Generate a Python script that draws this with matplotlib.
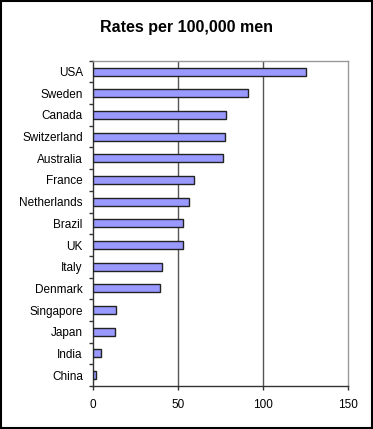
import numpy as np
import matplotlib.pyplot as plt
import matplotlib.ticker as ticker

plt.rcParams['font.family'] = ['Liberation Sans', 'DejaVu Sans']

countries = ['USA', 'Sweden', 'Canada', 'Switzerland', 'Australia', 'France',
             'Netherlands', 'Brazil', 'UK', 'Italy', 'Denmark', 'Singapore',
             'Japan', 'India', 'China']
rates = [125, 91, 78, 77.5, 76, 59.5, 56.5, 53, 52.5, 40.5, 39.5, 13.5, 12.5, 4.5, 1.5]

fig = plt.figure(figsize=[3.73, 4.29], dpi=100)
ax = fig.add_axes([0.250, 0.1002, 0.684, 0.7583])

y = np.arange(len(countries))
ax.barh(y, rates, height=0.37, color='#9999ff', edgecolor='#222222', linewidth=1, zorder=3)

ax.set_xlim(0, 150)
ax.set_ylim(len(countries) - 0.5, -0.5)
ax.xaxis.set_major_locator(ticker.MultipleLocator(50))
ax.set_yticks(y)
ax.set_yticklabels(countries)
ax.set_yticks(np.arange(-0.5, len(countries)), minor=True)

ax.tick_params(axis='y', which='major', length=0, pad=7.5, labelsize=8.5)
ax.tick_params(axis='y', which='minor', length=3, width=1, color='#333333', direction='out')
ax.tick_params(axis='x', which='major', length=3, width=1, color='#333333', pad=6, labelsize=8.5)

for v in [50, 100]:
    ax.axvline(v, color='#555555', linewidth=1, zorder=1)

ax.spines['left'].set_color('#333333')
ax.spines['bottom'].set_color('#333333')
ax.spines['top'].set_color('#999999')
ax.spines['right'].set_color('#999999')
for s in ax.spines.values():
    s.set_linewidth(1)

fig.text(0.5, 0.937, 'Rates per 100,000 men', ha='center', va='center',
         fontsize=11.5, fontweight='bold')

fig.patches.append(plt.Rectangle((0.002, 0.002), 0.994, 0.995, transform=fig.transFigure,
                                 fill=False, edgecolor='black', linewidth=1.5))

plt.savefig('out.png', dpi=100)
